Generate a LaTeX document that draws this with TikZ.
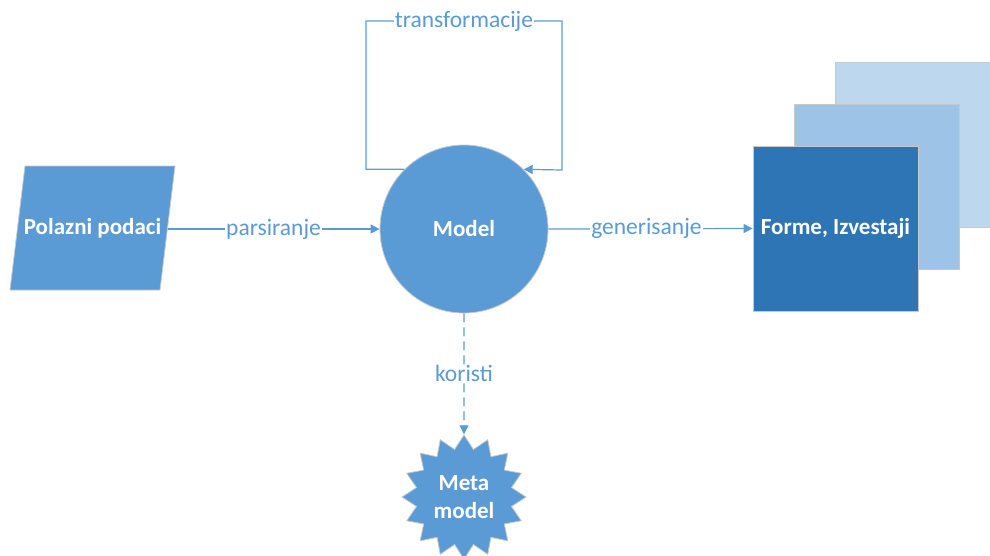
\documentclass[tikz,border=0pt]{standalone}
\usepackage{fontspec}
\setmainfont{Carlito}
\usetikzlibrary{shapes.geometric,arrows.meta}
\definecolor{ublue}{HTML}{5B9BD5}
\definecolor{dblue}{HTML}{2E75B6}
\definecolor{mblue}{HTML}{9DC3E6}
\definecolor{lblue}{HTML}{BDD7EE}
\definecolor{edge}{HTML}{C8C8C8}
\tikzset{
  shapetext/.style={text=white,font=\fontsize{23}{25}\selectfont\bfseries,align=center},
  conn/.style={draw=ublue,line width=1.2pt,-{Triangle[length=9pt,width=9pt]}},
  lbl/.style={fill=white,text=ublue,font=\fontsize{23.5}{25}\selectfont,inner sep=1pt},
  sq/.style={draw=edge,line width=0.8pt,minimum width=165pt,minimum height=165pt,inner sep=0pt},
}
\begin{document}
\begin{tikzpicture}[x=1pt,y=-1pt]
\useasboundingbox (0,0) rectangle (990,555);
% parallelogram
\fill[ublue,draw=edge,line width=0.8pt] (25,166) -- (175,166) -- (160,290) -- (10,290) -- cycle;
\node[shapetext] (pp) at (92.5,228) {Polazni podaci};
\coordinate (ppe) at (167.5,229);
% model
\node[circle,fill=ublue,draw=edge,line width=0.8pt,minimum size=168pt,inner sep=0pt,shapetext] (model) at (464,229) {Model};
% stacked squares
\node[sq,fill=lblue] (back) at (917.5,145) {};
\node[sq,fill=mblue] (mid) at (877,187) {};
\node[sq,fill=dblue,shapetext] (front) at (835.5,228.5) {Forme, Izvestaji};
% star
\node[star,star points=16,star point ratio=1.28,minimum size=124pt,inner sep=0pt,fill=ublue,draw=edge,line width=0.8pt,shapetext,font=\fontsize{23}{28}\selectfont\bfseries] (meta) at (464,497) {Meta\\model};
% connectors
\draw[conn] (ppe) -- node[lbl] {parsiranje} (model.west);
\draw[conn] (model.east) -- node[lbl,pos=0.48] {generisanje} (front.west);
\draw[conn] (model.135) -| (366,21) -| (562,170) -- (model.45);
\node[lbl] (tr) at (464,21) {transformacije};
\draw[conn,dash pattern=on 9pt off 5pt] (model.south) -- node[lbl,pos=0.5] {koristi} (meta.north);
\end{tikzpicture}
\end{document}
